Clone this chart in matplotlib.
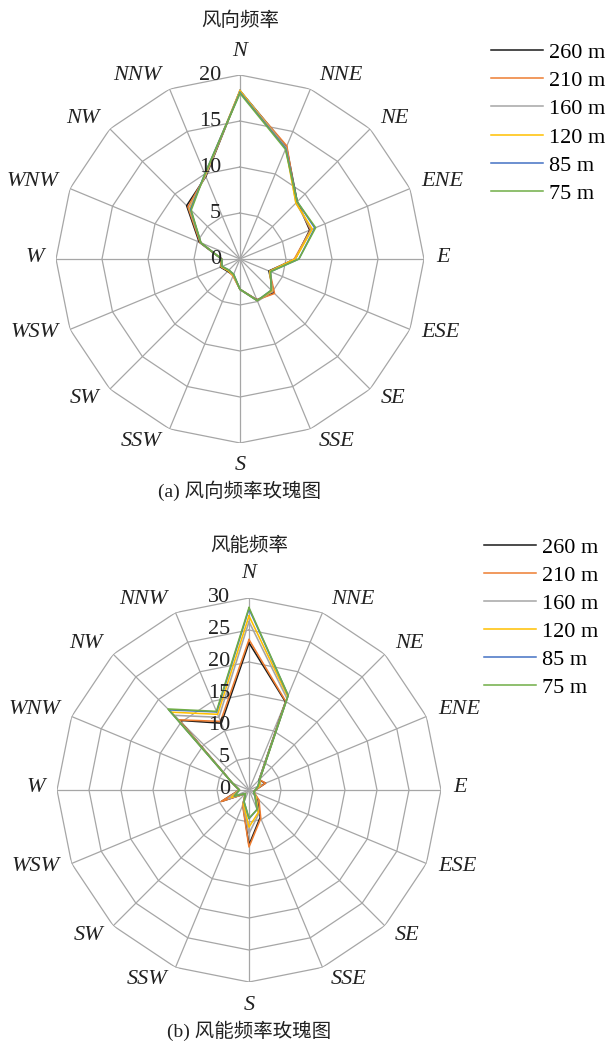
import numpy as np
import matplotlib
matplotlib.use("Agg")
import matplotlib.pyplot as plt

directions = ["N", "NNE", "NE", "ENE", "E", "ESE", "SE", "SSE",
              "S", "SSW", "SW", "WSW", "W", "WNW", "NW", "NNW"]
heights = ["260 m", "210 m", "160 m", "120 m", "85 m", "75 m"]

# (a) wind direction frequency (%)
dir_260 = [18.3, 13.2, 8.8, 8.2, 6.0, 3.4, 5.2, 4.8, 3.3, 1.9, 1.9, 2.3, 2.0, 4.8, 8.2, 9.7]
dir_210 = [18.2, 13.3, 8.7, 8.3, 5.9, 3.5, 5.3, 4.8, 3.3, 2.0, 1.8, 2.2, 2.0, 4.7, 8.0, 9.8]
dir_160 = [18.3, 13.1, 8.6, 8.4, 6.0, 3.5, 5.0, 4.9, 3.3, 1.9, 1.8, 2.2, 2.0, 4.6, 7.8, 9.8]
dir_120 = [18.3, 13.0, 8.6, 8.5, 6.0, 3.5, 4.9, 4.9, 3.3, 1.9, 1.8, 2.2, 2.0, 4.6, 7.7, 9.9]
dir_85 = [18.1, 13.0, 8.8, 8.8, 6.4, 3.6, 4.8, 4.9, 3.3, 1.8, 1.7, 2.1, 2.0, 4.6, 7.6, 10.0]
dir_75 = [18.0, 12.9, 8.8, 8.9, 6.4, 3.6, 4.8, 4.9, 3.3, 1.8, 1.7, 2.1, 2.0, 4.6, 7.5, 10.0]

# (b) wind energy frequency (%)
en_260 = [23.0, 14.9, 2.2, 2.8, 1.0, 0.8, 1.8, 4.6, 8.6, 2.5, 0.8, 4.6, 1.5, 2.8, 15.4, 11.3]
en_210 = [23.5, 15.0, 2.3, 2.8, 1.0, 0.8, 2.2, 4.8, 8.9, 2.6, 0.8, 4.7, 1.5, 2.8, 15.5, 11.6]
en_160 = [26.3, 15.5, 2.3, 2.0, 1.0, 0.8, 1.6, 4.0, 6.8, 2.4, 0.8, 3.5, 1.5, 2.8, 16.5, 12.3]
en_120 = [27.2, 15.8, 2.4, 1.8, 1.0, 0.8, 1.5, 3.8, 5.8, 2.3, 0.8, 3.0, 1.5, 2.8, 17.2, 12.8]
en_85 = [28.3, 16.0, 2.4, 1.5, 1.0, 0.8, 1.3, 3.3, 4.5, 2.0, 0.8, 2.5, 1.5, 2.8, 17.7, 13.2]
en_75 = [28.5, 16.0, 2.4, 1.5, 1.0, 0.8, 1.3, 3.3, 4.4, 2.0, 0.8, 2.4, 1.5, 2.8, 17.9, 13.3]

dir_ticks = [0, 5, 10, 15, 20]
en_ticks = [0, 5, 10, 15, 20, 25, 30]

colors = ["#1a1a1a", "#ED7D31", "#A5A5A5", "#FFC000", "#4472C4", "#70AD47"]
GRID = "#a6a6a6"
SERIF = "Liberation Serif"
CJK = ["Liberation Serif", "Noto Sans CJK SC"]
PX = 0.72  # points per pixel at dpi 100

W, H = 609, 1050
fig = plt.figure(figsize=(W / 100, H / 100), dpi=100)


def radar(cx, cy, R, series, ticks, title, caption, title_y, caption_y,
          leg_x, leg_y, lspace):
    ax = fig.add_axes([(cx - R) / W, 1 - (cy + R) / H, 2 * R / W, 2 * R / H],
                      projection="polar")
    ax.set_theta_zero_location("N")
    ax.set_theta_direction(-1)
    rmax = ticks[-1]
    ax.set_ylim(0, rmax)
    ax.grid(False)
    ax.spines["polar"].set_visible(False)
    ax.set_xticks([])
    ax.set_yticks([])
    ax.patch.set_alpha(0)
    n = len(directions)
    theta = np.arange(n) * 2 * np.pi / n
    tc = np.append(theta, theta[0])
    for t in ticks[1:]:
        ax.plot(tc, [t] * (n + 1), color=GRID, lw=0.9, zorder=1)
    for th in theta:
        ax.plot([th, th], [0, rmax], color=GRID, lw=0.9, zorder=1)
    for vals, c, lab in zip(series, colors, heights):
        v = np.append(vals, vals[0])
        ax.plot(tc, v, color=c, lw=1.15, label=lab, zorder=3)
    for t in ticks:
        ax.annotate(str(t), xy=(0, t), xytext=(-19 * PX, 0),
                    textcoords="offset points", ha="right", va="center",
                    fontsize=16, family=SERIF, color="#222222")
    for th, d in zip(theta, directions):
        s, c = np.sin(th), np.cos(th)
        ha = "left" if s > 0.1 else ("right" if s < -0.1 else "center")
        dx = np.sign(s) * (6 + 6 * abs(s)) if abs(s) > 0.1 else 0
        dy = 12 * c + 2 + (10 * np.sign(c) if abs(c) > 0.99 else 0)
        if c < -0.5:
            dy -= 3
        ax.annotate(d, xy=(th, rmax), xytext=(dx * PX, dy * PX),
                    textcoords="offset points", ha=ha, va="center",
                    fontsize=16, family=SERIF, style="italic",
                    color="#222222", annotation_clip=False)
    fig.text(cx / W, 1 - title_y / H, title, ha="center", va="center",
             fontsize=14, family=CJK, color="#222222")
    fig.text(cx / W, 1 - caption_y / H, caption, ha="center", va="center",
             fontsize=14, family=CJK, color="#222222")
    handles, labels = ax.get_legend_handles_labels()
    leg = fig.legend(handles, labels, loc="upper left",
                     bbox_to_anchor=(leg_x / W, 1 - leg_y / H),
                     frameon=False, prop={"family": SERIF, "size": 16},
                     handlelength=2.35, handletextpad=0.25,
                     labelspacing=lspace, borderpad=0, borderaxespad=0)
    for l in leg.get_lines():
        l.set_linewidth(1.1)
    return ax


radar(240, 259, 184, [dir_260, dir_210, dir_160, dir_120, dir_85, dir_75],
      dir_ticks, "风向频率", "(a) 风向频率玫瑰图", 21, 491, 491, 42, 0.35)
radar(249, 790, 192, [en_260, en_210, en_160, en_120, en_85, en_75],
      en_ticks, "风能频率", "(b) 风能频率玫瑰图", 546, 1031, 484, 537, 0.34)

fig.savefig("out.png", dpi=100)
